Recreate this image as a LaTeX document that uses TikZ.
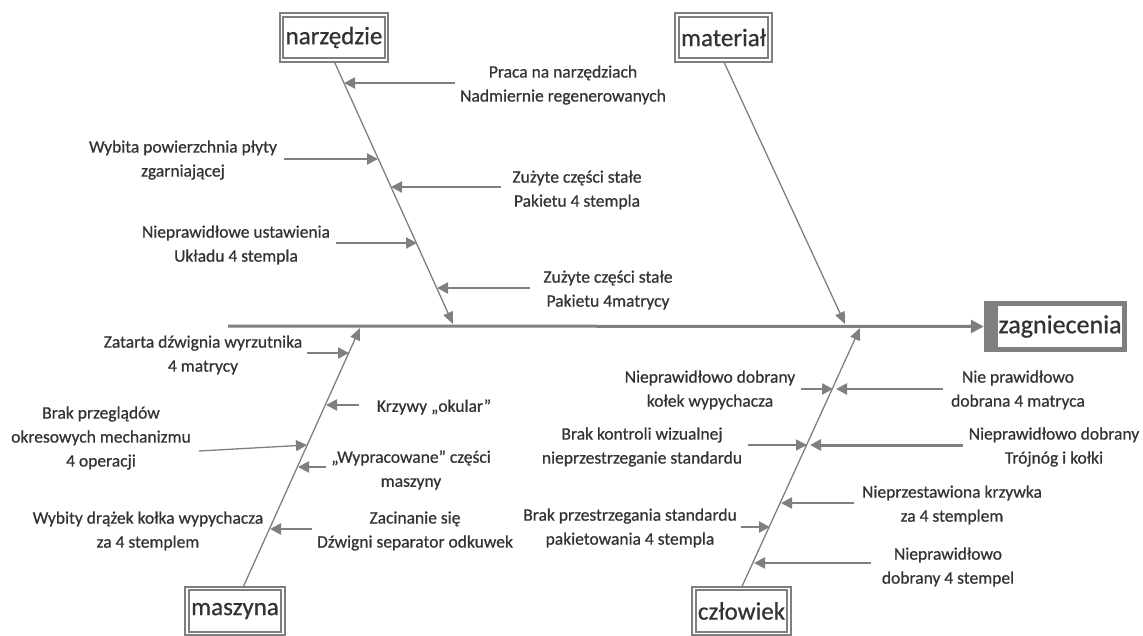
\documentclass[tikz,border=0pt]{standalone}
\usepackage{fontspec}
\setmainfont{Carlito}[FakeBold=0.7]
\usetikzlibrary{arrows.meta}
\definecolor{FishGray}{HTML}{7F7F7F}
\definecolor{FishText}{HTML}{333333}

\begin{document}
\begin{tikzpicture}[x=1pt,y=-1pt,font=\fontsize{17.5pt}{24pt}\selectfont,text=FishText,
    cat/.style={draw=FishGray,double=white,double distance=1.5pt,line width=2pt,minimum height=45,inner xsep=4pt,font=\fontsize{25pt}{27pt}\selectfont},
    cause/.style={align=center,inner sep=2pt},
    bone/.style={draw=FishGray,line width=1.3pt,-{Triangle[length=12pt,width=10pt]}},
    br/.style={draw=FishGray,line width=2.2pt,-{Triangle[length=11pt,width=11pt]}}]
  \useasboundingbox (0,0) rectangle (1143,635);
  % head
  \node[fill=FishGray,minimum width=143,minimum height=51,inner sep=0] (zag) at (1055.5,326.5) {};
  \node[fill=white,minimum width=124,minimum height=41,inner sep=0,font=\fontsize{26pt}{28pt}\selectfont] (zagtxt) at (1060,326.5) {zagniecenia};
  \coordinate (tail) at (228,326);
  \draw[draw=FishGray,line width=3pt,-{Triangle[length=13pt,width=13pt]}] (tail) -- (zag.west);
  % categories
  \node[cat] (nar) at (334,37.5) {narzędzie};
  \node[cat] (mat) at (723.5,37.5) {materiał};
  \node[cat] (mas) at (235,611) {maszyna};
  \node[cat] (czl) at (741.5,611) {człowiek};
  \coordinate (s1) at (453,324); \coordinate (s2) at (845,324);
  \coordinate (s3) at (360,328); \coordinate (s4) at (860,328);
  \draw[bone] (nar.south) -- (s1);
  \draw[bone] (mat.south) -- (s2);
  \draw[bone] ([xshift=8]mas.north) -- (s3);
  \draw[bone] (czl.north) -- (s4);
  % narzedzie
  \node[cause] (praca) at (563,85) {Praca na narzędziach\\Nadmiernie regenerowanych};
  \node[cause] (plyta) at (183,160) {Wybita powierzchnia płyty\\zgarniającej};
  \node[cause] (zst) at (577,190) {Zużyte części stałe\\Pakietu 4 stempla};
  \node[cause] (ukl) at (236,245) {Nieprawidłowe ustawienia\\Układu 4 stempla};
  \node[cause] (zmt) at (608,290) {Zużyte części stałe\\Pakietu 4matrycy};
  \coordinate (a1) at (344,83); \coordinate (a2) at (378,159);
  \coordinate (a3) at (391,187); \coordinate (a4) at (417,243);
  \coordinate (a5) at (437,288);
  \draw[br] ([xshift=-3]praca.west |- a1) -- (a1);
  \draw[br] ([xshift=5]plyta.east |- a2) -- (a2);
  \draw[br] ([xshift=-9]zst.west |- a3) -- (a3);
  \draw[br] ([xshift=4]ukl.east |- a4) -- (a4);
  \draw[br] ([xshift=-11]zmt.west |- a5) -- (a5);
  % maszyna
  \node[cause] (zat) at (203,355) {Zatarta dźwignia wyrzutnika\\4 matrycy};
  \node[cause] (okul) at (434,407) {Krzywy „okular”};
  \node[cause] (przeg) at (101,438) {Brak przeglądów\\okresowych mechanizmu\\4 operacji};
  \node[cause] (wyp) at (411,470) {„Wypracowane” części\\maszyny};
  \node[cause] (draz) at (148,531) {Wybity drążek kołka wypychacza\\za 4 stemplem};
  \node[cause] (zac) at (415,531) {Zacinanie się\\Dźwigni separator odkuwek};
  \coordinate (b1) at (349,353); \coordinate (b2) at (326,405);
  \coordinate (b3) at (307,445); \coordinate (b4) at (298,467);
  \coordinate (b5) at (270,529);
  \draw[br] ([xshift=3]zat.east |- b1) -- (b1);
  \draw[br] ([xshift=-16]okul.west |- b2) -- (b2);
  \draw[br,line width=1.3pt] ([xshift=6,yshift=-13]przeg.east) -- (b3);
  \draw[br] ([xshift=-3]wyp.west |- b4) -- (b4);
  \draw[br] ([xshift=-3]zac.west |- b5) -- (b5);
  % czlowiek
  \node[cause] (kol) at (710,390) {Nieprawidłowo dobrany\\kołek wypychacza};
  \node[cause] (mtr) at (1018,390) {Nie prawidłowo\\dobrana 4 matryca};
  \node[cause] (kon) at (642,447) {Brak kontroli wizualnej\\nieprzestrzeganie standardu};
  \node[cause] (tro) at (1054,447) {Nieprawidłowo dobrany\\Trójnóg i kołki};
  \node[cause] (krz) at (952,505) {Nieprzestawiona krzywka\\za 4 stemplem};
  \node[cause] (pak) at (630,528) {Brak przestrzegania standardu\\pakietowania 4 stempla};
  \node[cause] (stp) at (948,567) {Nieprawidłowo\\dobrany 4 stempel};
  \coordinate (c1) at (833,389); \coordinate (c2) at (836,389);
  \coordinate (c3) at (807,445); \coordinate (c4) at (810,445);
  \coordinate (c5) at (781,503); \coordinate (c6) at (770,527);
  \coordinate (c7) at (754,563);
  \draw[br] ([xshift=4]kol.east |- c1) -- (c1);
  \draw[br] ([xshift=-6]mtr.west |- c2) -- (c2);
  \draw[br,line width=1.3pt] ([xshift=4]kon.east |- c3) -- (c3);
  \draw[br,line width=3pt] ([xshift=-4]tro.west |- c4) -- (c4);
  \draw[br] ([xshift=-6]krz.west |- c5) -- (c5);
  \draw[br] ([xshift=2]pak.east |- c6) -- (c6);
  \draw[br] ([xshift=-9]stp.west |- c7) -- (c7);
\end{tikzpicture}
\end{document}
